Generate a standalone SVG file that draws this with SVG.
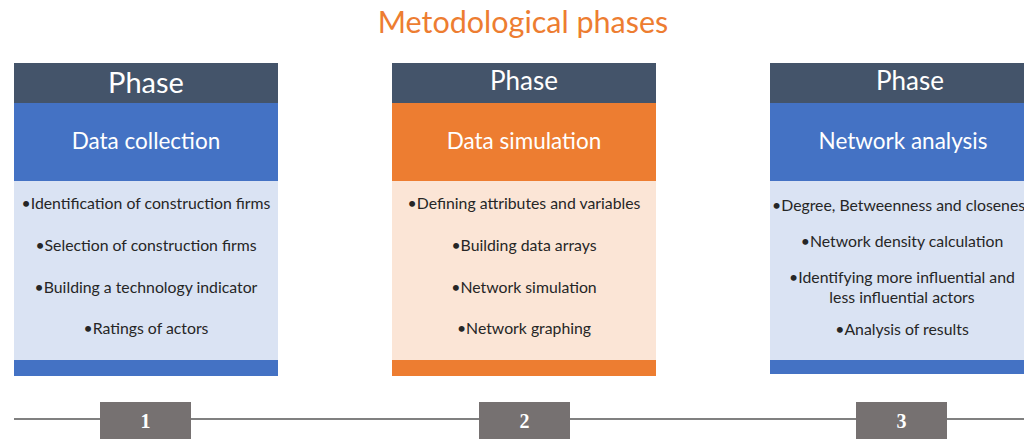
<svg xmlns="http://www.w3.org/2000/svg" width="1024" height="441" viewBox="0 0 1024 441">
<style>
text{font-family:Lato,"Open Sans","Liberation Sans",sans-serif;text-anchor:middle}
.hd{fill:#44546A}
.ph{fill:#fff;font-size:29px}
.ph2{fill:#fff;font-size:26px}
.sub{fill:#fff;font-size:22.5px}
.it{fill:#262626;font-size:15.8px}
.blue{fill:#4472C4}
.lb{fill:#DAE3F3}
.or{fill:#ED7D31}
.lo{fill:#FBE5D6}
.num{fill:#767171}
.nt{fill:#fff;font-family:"Liberation Serif",serif;font-weight:bold;font-size:20px}
</style>
<rect width="1024" height="441" fill="#fff"/>
<text x="523" y="33" style="fill:#ED7D31;font-size:30.5px">Metodological phases</text>
<g id="connectors">
<line x1="14" y1="419" x2="1024" y2="419" stroke="#808080" stroke-width="2"/>
</g>
<g id="phase1">
<rect x="14" y="63" width="264" height="40" class="hd"/>
<text x="146" y="93" class="ph">Phase</text>
<rect x="14" y="103" width="264" height="78" class="blue"/>
<text x="146" y="149" class="sub">Data collection</text>
<rect x="14" y="181" width="264" height="179" class="lb"/>
<text x="146" y="209" class="it">•Identification of construction firms</text>
<text x="146" y="251" class="it">•Selection of construction firms</text>
<text x="146" y="293" class="it">•Building a technology indicator</text>
<text x="146" y="334" class="it">•Ratings of actors</text>
<rect x="14" y="360" width="264" height="16" class="blue"/>
</g>
<g id="phase2">
<rect x="392" y="63" width="264" height="40" class="hd"/>
<text x="524" y="90" class="ph2">Phase</text>
<rect x="392" y="103" width="264" height="78" class="or"/>
<text x="524" y="149" class="sub">Data simulation</text>
<rect x="392" y="181" width="264" height="179" class="lo"/>
<text x="524" y="209" class="it">•Defining attributes and variables</text>
<text x="524" y="251" class="it">•Building data arrays</text>
<text x="524" y="293" class="it">•Network simulation</text>
<text x="524" y="334" class="it">•Network graphing</text>
<rect x="392" y="360" width="264" height="16" class="or"/>
</g>
<g id="phase3">
<rect x="770" y="63" width="264" height="40" class="hd"/>
<text x="910" y="90" class="ph2">Phase</text>
<rect x="770" y="103" width="264" height="78" class="blue"/>
<text x="903" y="149" class="sub">Network analysis</text>
<rect x="770" y="181" width="264" height="179" class="lb"/>
<text x="902" y="211" class="it">•Degree, Betweenness and closeness</text>
<text x="902" y="247" class="it">•Network density calculation</text>
<text x="902" y="283" class="it">•Identifying more influential and</text>
<text x="902" y="303" class="it">less influential actors</text>
<text x="902" y="335" class="it">•Analysis of results</text>
<rect x="770" y="360" width="264" height="14" class="blue"/>
</g>
<g id="step1"><rect x="100" y="402" width="91" height="37" class="num"/><text x="145.5" y="428" class="nt">1</text></g>
<g id="step2"><rect x="479" y="402" width="91" height="37" class="num"/><text x="524.5" y="428" class="nt">2</text></g>
<g id="step3"><rect x="856" y="402" width="91" height="37" class="num"/><text x="901.5" y="428" class="nt">3</text></g>
</svg>
